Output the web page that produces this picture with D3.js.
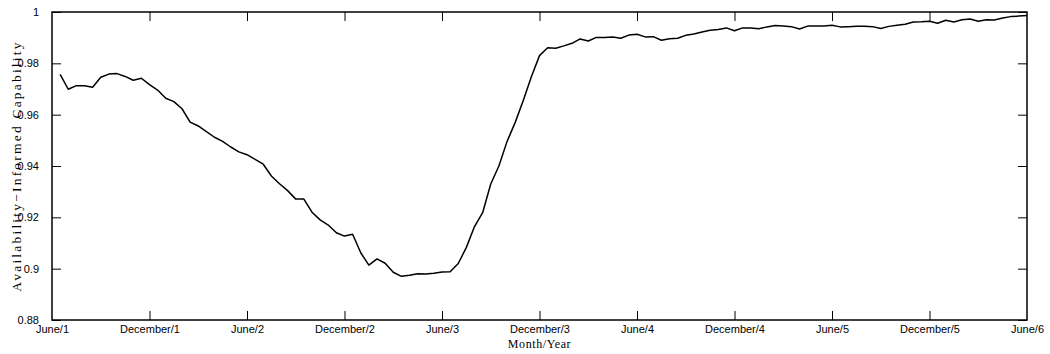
<!DOCTYPE html>
<html>
<head>
<meta charset="utf-8">
<script src="https://cdn.jsdelivr.net/npm/d3@7"></script>
<style>
  body { margin: 0; background: #fff; }
  svg { display: block; }
</style>
</head>
<body>
<div id="chart"></div>
<script>
// half-month periods, June/1 = 0 ... June/6 = 120
var xTickPeriods = [0, 12, 24, 36, 48, 60, 72, 84, 96, 108, 120];
var xTickLabels = ["June/1", "December/1", "June/2", "December/2", "June/3",
  "December/3", "June/4", "December/4", "June/5", "December/5", "June/6"];
var yTicks = [0.88, 0.9, 0.92, 0.94, 0.96, 0.98, 1];

// capability values, one per half month, starting at period 1
var capability = [
  0.9757, 0.9699, 0.9713, 0.9713, 0.9707, 0.9746, 0.9758, 0.9760, 0.9749, 0.9734,
  0.9742, 0.9717, 0.9696, 0.9664, 0.9651, 0.9623, 0.9571, 0.9556, 0.9534, 0.9512,
  0.9496, 0.9474, 0.9455, 0.9444, 0.9426, 0.9407, 0.9361, 0.9331, 0.9304, 0.9271,
  0.9271, 0.9220, 0.9190, 0.9170, 0.9140, 0.9127, 0.9134, 0.9062, 0.9014, 0.9038,
  0.9021, 0.8986, 0.8970, 0.8974, 0.8980, 0.8979, 0.8982, 0.8987, 0.8988, 0.9020,
  0.9083, 0.9164, 0.9218, 0.9330, 0.9400, 0.9495, 0.9569, 0.9655, 0.9748, 0.9830,
  0.9861, 0.9859, 0.9868, 0.9878, 0.9895, 0.9887, 0.9901, 0.9901, 0.9903, 0.9898,
  0.9910, 0.9913, 0.9903, 0.9904, 0.9890, 0.9896, 0.9898, 0.9909, 0.9914, 0.9922,
  0.9929, 0.9932, 0.9938, 0.9927, 0.9938, 0.9938, 0.9935, 0.9942, 0.9947, 0.9945,
  0.9943, 0.9934, 0.9945, 0.9945, 0.9945, 0.9948, 0.9942, 0.9943, 0.9944, 0.9944,
  0.9943, 0.9936, 0.9944, 0.9948, 0.9952, 0.9961, 0.9962, 0.9964, 0.9956, 0.9968,
  0.9961, 0.9970, 0.9973, 0.9964, 0.9970, 0.9969, 0.9977, 0.9982, 0.9984, 0.9986
];

var width = 1050, height = 354;
var margin = {top: 12, right: 23, bottom: 34, left: 52};
var w = width - margin.left - margin.right;
var h = height - margin.top - margin.bottom;

var svg = d3.select("#chart").append("svg")
  .attr("width", width)
  .attr("height", height);

var g = svg.append("g")
  .attr("transform", "translate(" + margin.left + "," + margin.top + ")");

var x = d3.scaleLinear().domain([0, 120]).range([0, w]);
var y = d3.scaleLinear().domain([0.88, 1]).range([h, 0]);

var tickFont = "'Liberation Sans', Arial, Helvetica, sans-serif";
var titleFont = "'Liberation Serif', 'Times New Roman', serif";

// bottom axis (ticks point inward)
var xAxis = g.append("g")
  .attr("transform", "translate(0," + h + ")")
  .call(d3.axisBottom(x)
    .tickValues(xTickPeriods)
    .tickSize(-9)
    .tickPadding(10)
    .tickFormat(function(d, i) { return xTickLabels[i]; }));

// top mirror ticks
var xTop = g.append("g")
  .call(d3.axisTop(x).tickValues(xTickPeriods).tickSize(-9).tickFormat(""));

// left axis
var yAxis = g.append("g")
  .call(d3.axisLeft(y)
    .tickValues(yTicks)
    .tickSize(-9)
    .tickPadding(13)
    .tickFormat(d3.format("~g")));

// right mirror ticks
var yRight = g.append("g")
  .attr("transform", "translate(" + w + ",0)")
  .call(d3.axisRight(y).tickValues(yTicks).tickSize(-9).tickFormat(""));

[xAxis, xTop, yAxis, yRight].forEach(function(a) {
  a.select(".domain").remove();
  a.selectAll(".tick line").attr("stroke", "#000").attr("stroke-width", 1);
  a.selectAll("text")
    .style("font-family", tickFont)
    .style("font-size", "11px")
    .attr("fill", "#000");
});
xAxis.selectAll("text").attr("dy", "0.3em");

// hide end ticks that coincide with the frame
xAxis.selectAll(".tick line").filter(function(d, i) { return i == 0 || i == xTickPeriods.length - 1; }).remove();
xTop.selectAll(".tick line").filter(function(d, i) { return i == 0 || i == xTickPeriods.length - 1; }).remove();

// frame
g.append("rect")
  .attr("width", w)
  .attr("height", h)
  .attr("fill", "none")
  .attr("stroke", "#000")
  .attr("stroke-width", 1.5);

// data line
var line = d3.line()
  .x(function(d, i) { return x(i + 1); })
  .y(function(d) { return y(d); });

g.append("path")
  .datum(capability)
  .attr("d", line)
  .attr("fill", "none")
  .attr("stroke", "#000")
  .attr("stroke-width", 1.5)
  .attr("stroke-linejoin", "round");

// axis titles
svg.append("text")
  .attr("x", margin.left + w / 2)
  .attr("y", 348)
  .attr("text-anchor", "middle")
  .style("font-family", titleFont)
  .style("font-size", "12px")
  .style("letter-spacing", "0.6px")
  .text("Month/Year");

svg.append("text")
  .attr("transform", "translate(21," + (margin.top + h / 2) + ") rotate(-90)")
  .attr("text-anchor", "middle")
  .style("font-family", titleFont)
  .style("font-size", "13.5px")
  .style("letter-spacing", "2.2px")
  .text("Availability\u2212Informed Capability");
</script>
</body>
</html>
